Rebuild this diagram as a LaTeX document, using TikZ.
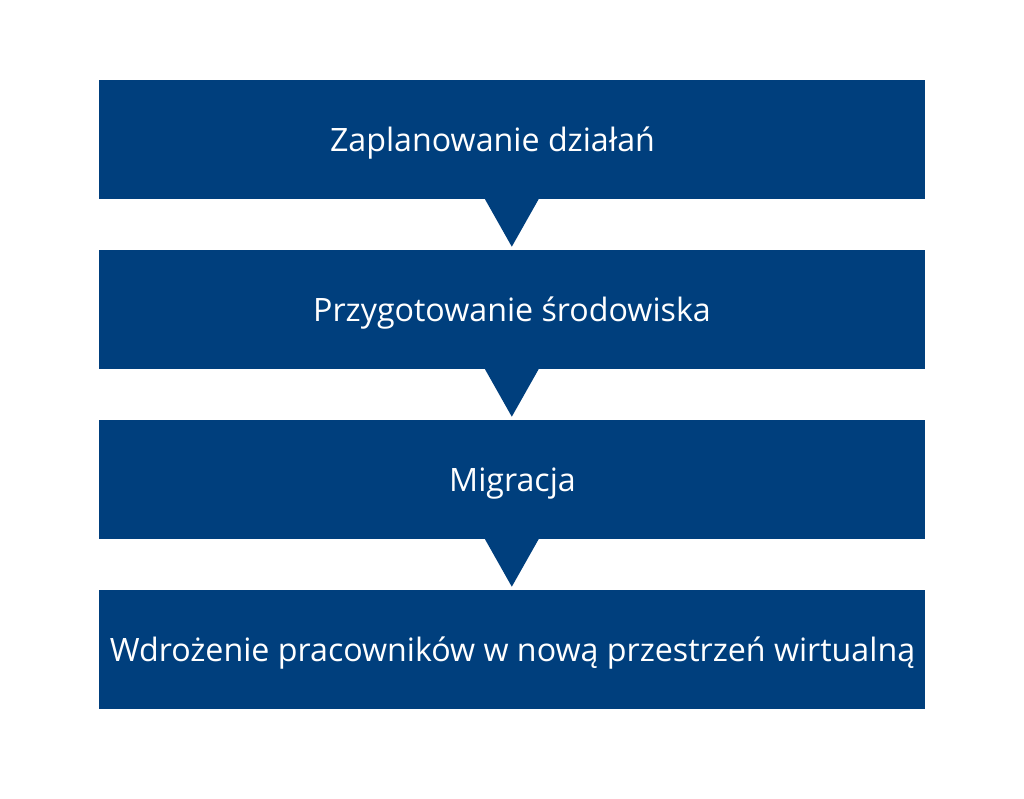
\documentclass[tikz,border=0pt]{standalone}
\usepackage{fontspec}
\setmainfont{Open Sans}
\definecolor{boxblue}{RGB}{0,63,125}
\begin{document}
\begin{tikzpicture}[x=1pt,y=-1pt,
  stepbox/.style={fill=boxblue,draw=none},
  steptext/.style={text=white,font=\fontsize{32.2}{36}\selectfont,anchor=base,inner sep=0pt},
  tri/.style={fill=boxblue,draw=none}]
\useasboundingbox[fill=white] (0,0) rectangle (1024,798);
\foreach \i/\t in {0/80,1/250,2/420,3/590}{
  \fill[boxblue] (99,\t) rectangle (925,\t+119);
}
\foreach \t in {199,369,539}{
  \fill[boxblue] (484.3,\t-1) -- (539.3,\t-1) -- (511.8,\t+47.7) -- cycle;
}
\node[steptext] (s1) at (492.5,151.5) {Zaplanowanie działań};
\node[steptext] (s2) at (512,321.5) {Przygotowanie środowiska};
\node[steptext] (s3) at (512.5,491.5) {Migracja};
\node[steptext] (s4) at (512.5,661.5) {Wdrożenie pracowników w nową przestrzeń wirtualną};
\end{tikzpicture}
\end{document}
